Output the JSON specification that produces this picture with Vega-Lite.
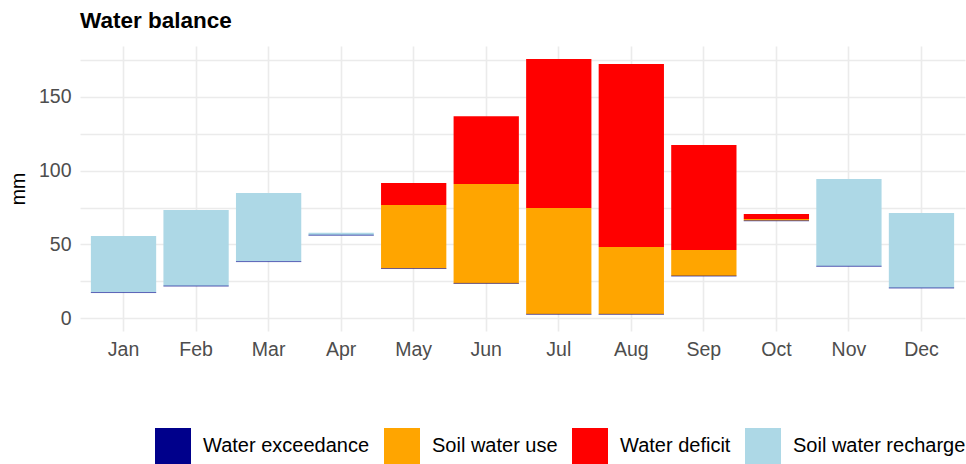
{
  "$schema": "https://vega.github.io/schema/vega-lite/v6.json",
  "width": 885,
  "height": 285,
  "autosize": {"type": "none"},
  "padding": {"left": 80, "top": 46, "right": 1, "bottom": 133},
  "background": "white",
  "title": {"text": "Water balance", "anchor": "start", "frame": "group", "font": "Liberation Sans", "fontSize": 22.5, "fontWeight": "bold", "color": "black", "offset": 14},
  "config": {
    "view": {"stroke": null},
    "font": "Liberation Sans"
  },
  "data": {"values": [
    {"month": "Jan", "type": "Soil water recharge", "lo": 17.3, "hi": 55.7},
    {"month": "Jan", "type": "Water exceedance", "lo": 17.3, "hi": 17.3},
    {"month": "Feb", "type": "Soil water recharge", "lo": 21.7, "hi": 73.3},
    {"month": "Feb", "type": "Water exceedance", "lo": 21.7, "hi": 21.7},
    {"month": "Mar", "type": "Soil water recharge", "lo": 38.3, "hi": 84.8},
    {"month": "Mar", "type": "Water exceedance", "lo": 38.3, "hi": 38.3},
    {"month": "Apr", "type": "Soil water recharge", "lo": 56.2, "hi": 57.9},
    {"month": "Apr", "type": "Water exceedance", "lo": 56.2, "hi": 56.2},
    {"month": "May", "type": "Soil water use", "lo": 33.6, "hi": 76.7},
    {"month": "May", "type": "Water deficit", "lo": 76.7, "hi": 91.6},
    {"month": "May", "type": "Water exceedance", "lo": 33.6, "hi": 33.6},
    {"month": "Jun", "type": "Soil water use", "lo": 23.5, "hi": 91.0},
    {"month": "Jun", "type": "Water deficit", "lo": 91.0, "hi": 137.0},
    {"month": "Jun", "type": "Water exceedance", "lo": 23.5, "hi": 23.5},
    {"month": "Jul", "type": "Soil water use", "lo": 2.5, "hi": 74.7},
    {"month": "Jul", "type": "Water deficit", "lo": 74.7, "hi": 175.8},
    {"month": "Jul", "type": "Water exceedance", "lo": 2.5, "hi": 2.5},
    {"month": "Aug", "type": "Soil water use", "lo": 2.5, "hi": 48.2},
    {"month": "Aug", "type": "Water deficit", "lo": 48.2, "hi": 172.4},
    {"month": "Aug", "type": "Water exceedance", "lo": 2.5, "hi": 2.5},
    {"month": "Sep", "type": "Soil water use", "lo": 28.5, "hi": 46.2},
    {"month": "Sep", "type": "Water deficit", "lo": 46.2, "hi": 117.4},
    {"month": "Sep", "type": "Water exceedance", "lo": 28.5, "hi": 28.5},
    {"month": "Oct", "type": "Soil water use", "lo": 66.0, "hi": 67.2},
    {"month": "Oct", "type": "Water deficit", "lo": 67.2, "hi": 70.6},
    {"month": "Oct", "type": "Water exceedance", "lo": 66.0, "hi": 66.0},
    {"month": "Nov", "type": "Soil water recharge", "lo": 35.1, "hi": 94.3},
    {"month": "Nov", "type": "Water exceedance", "lo": 35.1, "hi": 35.1},
    {"month": "Dec", "type": "Soil water recharge", "lo": 20.4, "hi": 71.3},
    {"month": "Dec", "type": "Water exceedance", "lo": 20.4, "hi": 20.4}
  ]},
  "mark": {"type": "bar", "strokeOpacity": 0.35, "stroke": "#00008B"},
  "encoding": {
    "x": {
      "field": "month", "type": "nominal",
      "sort": ["Jan","Feb","Mar","Apr","May","Jun","Jul","Aug","Sep","Oct","Nov","Dec"],
      "scale": {"paddingInner": 0.1, "paddingOuter": 0.15},
      "axis": {"title": null, "labelAngle": 0, "labelFontSize": 19.5, "labelColor": "#4d4d4d", "labelPadding": 9, "ticks": false, "domain": false, "grid": true, "gridColor": "#ebebeb", "gridWidth": 1.6, "bandPosition": 0.5}
    },
    "y": {
      "field": "lo", "type": "quantitative",
      "scale": {"domain": [-8.8, 184.6], "nice": false, "zero": false},
      "axis": {"title": "mm", "titleFontSize": 19.5, "titleFontWeight": "normal", "titleColor": "black", "titlePadding": 10, "values": [0,25,50,75,100,125,150,175], "labelExpr": "datum.value % 50 == 0 ? datum.label : ''", "labelFontSize": 19.5, "labelColor": "#4d4d4d", "labelPadding": 9, "ticks": false, "domain": false, "gridColor": "#ebebeb", "gridWidth": 1.3}
    },
    "y2": {"field": "hi"},
    "strokeWidth": {"condition": {"test": "datum.type == 'Water exceedance'", "value": 1}, "value": 0},
    "color": {
      "field": "type", "type": "nominal",
      "scale": {"domain": ["Water exceedance", "Soil water use", "Water deficit", "Soil water recharge"], "range": ["#00008B", "#FFA500", "#FF0000", "#ADD8E6"]},
      "legend": {"title": null, "orient": "none", "legendX": 75, "legendY": 382, "direction": "horizontal", "columns": 4, "symbolType": "square", "symbolSize": 1296, "symbolStrokeWidth": 0, "labelFontSize": 20, "labelColor": "black", "labelOffset": 12, "columnPadding": 14, "labelLimit": 300}
    }
  }
}
